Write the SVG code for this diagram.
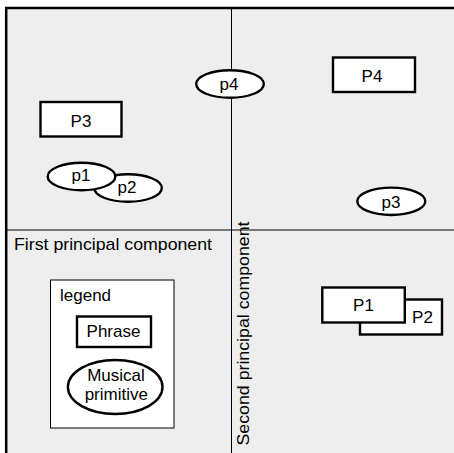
<svg xmlns="http://www.w3.org/2000/svg" width="454" height="453" viewBox="0 0 454 453">
<style>
  text { font-family: "Liberation Sans", Arial, sans-serif; font-size: 17px; fill: #000; }
  .c { text-anchor: middle; }
  .node { fill: #fff; stroke: #000; stroke-width: 2.4; }
  .axis { stroke: #000; stroke-width: 1; fill: none; }
</style>
<rect width="454" height="453" fill="#fff"/>
<rect id="frame" x="6.2" y="8" width="470" height="470" fill="#eeeeee" stroke="#000" stroke-width="2.5"/>
<g id="connectors">
  <line class="axis" x1="7" y1="230" x2="454" y2="230" stroke="#444"/>
  <line class="axis" x1="231.5" y1="9" x2="231.5" y2="453"/>
</g>
<text x="14" y="250" textLength="198" lengthAdjust="spacingAndGlyphs">First principal component</text>
<text transform="translate(248.5,445.5) rotate(-90)" x="0" y="0" textLength="224" lengthAdjust="spacingAndGlyphs">Second principal component</text>
<g id="P3"><rect class="node" x="40.5" y="102" width="81" height="34.5"/><text class="c" x="81" y="126.5">P3</text></g>
<g id="P4"><rect class="node" x="333" y="57.5" width="82" height="34.5"/><text class="c" x="372" y="81.5">P4</text></g>
<g id="p4"><ellipse class="node" cx="230" cy="84" rx="33.8" ry="13.8"/><text class="c" x="229" y="89.5">p4</text></g>
<g id="p2"><ellipse class="node" cx="128" cy="188" rx="33.8" ry="13.8"/><text class="c" x="127" y="192.5">p2</text></g>
<g id="p1"><ellipse class="node" cx="81.5" cy="176.5" rx="33.8" ry="13.8"/><text class="c" x="81" y="180.5">p1</text></g>
<g id="p3"><ellipse class="node" cx="391.3" cy="201.3" rx="34" ry="13.7"/><text class="c" x="391" y="207.5">p3</text></g>
<g id="P2"><rect class="node" x="360" y="299.5" width="82" height="35"/><text class="c" x="422.5" y="323">P2</text></g>
<g id="P1"><rect class="node" x="322.3" y="287.5" width="82.5" height="35"/><text class="c" x="363.5" y="311.3">P1</text></g>
<g id="legend">
  <rect x="50.5" y="280" width="123.5" height="148" fill="#fff" stroke="#000" stroke-width="1"/>
  <text x="60" y="301">legend</text>
  <rect class="node" x="77" y="316.5" width="74" height="30.5"/>
  <text class="c" x="113.5" y="337.3">Phrase</text>
  <ellipse class="node" cx="115.2" cy="387" rx="47.3" ry="27"/>
  <text class="c" x="116" y="380.7">Musical</text>
  <text class="c" x="116.3" y="399.5">primitive</text>
</g>
</svg>
